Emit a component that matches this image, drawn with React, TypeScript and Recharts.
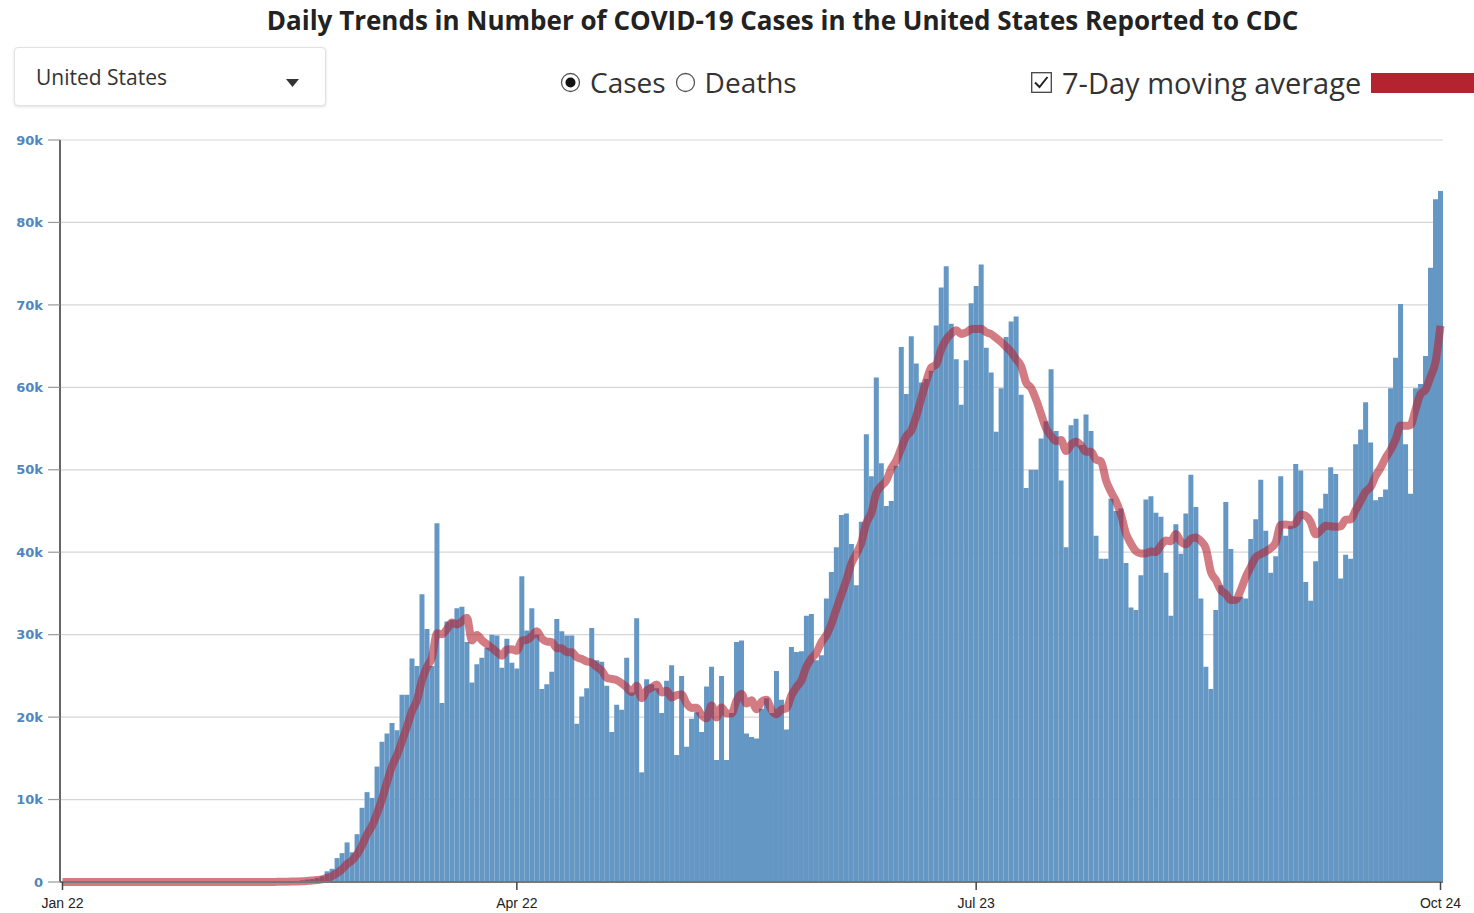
import React from 'react'
import { ComposedChart, Bar, Line, XAxis, YAxis, CartesianGrid } from 'recharts'

// daily reported cases (2020)
const jan = [0, 0, 0, 0, 0, 0, 0, 0, 0, 0] // from Jan 22
const feb = [
  0, 0, 0, 0, 0, 0, 0, 0, 0, 0, 0, 0, 0, 0, 0, 0, 0, 0, 0, 0, 0, 0, 0, 0, 0, 0, 0, 0, 0,
]
const mar = [
  10, 20, 20, 30, 50, 60, 70, 100, 120, 200, 300, 350, 500, 700, 1300, 1600, 2900, 3500, 4800,
  3600, 5800, 9000, 10900, 10200, 14000, 17000, 18000, 19300, 18400, 22700, 22700,
]
const apr = [
  27100, 26200, 34900, 30700, 26200, 43500, 21700, 31600, 31800, 33200, 33400, 29100, 24200,
  26400, 27200, 28400, 30000, 29900, 26000, 29500, 26600, 25900, 37100, 30500, 33200, 30000,
  23400, 24000, 25500, 31900,
]
const may = [
  30400, 29900, 29900, 19200, 22500, 23500, 30800, 26900, 26700, 23800, 18200, 21500, 20900,
  27200, 23000, 32000, 13300, 24600, 24000, 23500, 20500, 24400, 26300, 15400, 25000, 16400,
  19800, 20600, 18200, 23700, 26100,
]
const jun = [
  14800, 25000, 14800, 20500, 29100, 29300, 18000, 17600, 17400, 21000, 22300, 20500, 25600,
  22100, 18500, 28500, 27900, 28000, 32300, 32500, 26900, 27500, 34400, 37600, 40600, 44500,
  44700, 41000, 36000, 43700,
]
const jul = [
  54300, 49200, 61200, 50800, 45600, 46200, 50500, 64900, 59200, 66200, 62900, 60600, 61000,
  62000, 67500, 72100, 74700, 67700, 63400, 57900, 63300, 70200, 72300, 74900, 64800, 61800,
  54600, 59900, 66100, 68000, 68600,
]
const aug = [
  59100, 47800, 50000, 50000, 53800, 55900, 62200, 54700, 48700, 40600, 55400, 56200, 53000,
  56700, 54700, 42000, 39200, 39200, 46500, 45000, 45300, 38700, 33300, 33000, 37200, 46400,
  46800, 44800, 44300, 37500, 32300,
]
const sep = [
  43400, 39800, 44700, 49400, 45500, 34400, 26100, 23400, 33000, 36000, 46100, 40400, 34600,
  34600, 34400, 41600, 44000, 48800, 42600, 37500, 39500, 49200, 42000, 43200, 50700, 49900,
  36400, 34100, 38900, 45300,
]
const oct = [
  47100, 50300, 49500, 36800, 39700, 39200, 53100, 54900, 58200, 53300, 46300, 46700, 47600,
  59900, 63600, 70100, 53100, 47100, 59900, 60400, 63800, 74500, 82800, 83800,
]

const months: [string, number, number[]][] = [
  ['Jan', 22, jan],
  ['Feb', 1, feb],
  ['Mar', 1, mar],
  ['Apr', 1, apr],
  ['May', 1, may],
  ['Jun', 1, jun],
  ['Jul', 1, jul],
  ['Aug', 1, aug],
  ['Sep', 1, sep],
  ['Oct', 1, oct],
]

const xTicks = ['Jan 22', 'Apr 22', 'Jul 23', 'Oct 24']
const yTicks = [0, 10000, 20000, 30000, 40000, 50000, 60000, 70000, 80000, 90000]

const data: { date: string; cases: number; avg?: number }[] = []
months.forEach(([m, first, vals]) => {
  vals.forEach((v, i) => data.push({ date: `${m} ${first + i}`, cases: v }))
})
// 7-day trailing moving average of the daily values
data.forEach((d, i) => {
  const win = data.slice(Math.max(0, i - 6), i + 1)
  d.avg = win.reduce((s, x) => s + x.cases, 0) / win.length
})

const BLUE = '#6497c4'
const RED = '#b52330'

function Radio({ checked }: { checked: boolean }) {
  return (
    <svg width={21} height={21} style={{ display: 'block' }}>
      <circle cx={10.5} cy={10.5} r={9} fill="#fff" stroke="#555" strokeWidth={1.3} />
      {checked && <circle cx={10.5} cy={10.5} r={5} fill="#111" />}
    </svg>
  )
}

export default function App() {
  return (
    <div
      style={{
        position: 'absolute',
        left: 0,
        top: 0,
        width: 1474,
        height: 913,
        background: '#fff',
        overflow: 'hidden',
        fontFamily: '"Open Sans", sans-serif',
        color: '#222',
      }}
    >
      <div
        style={{
          position: 'absolute',
          left: 0,
          top: 2,
          width: 1565,
          textAlign: 'center',
          fontSize: 26,
          fontWeight: 700,
        }}
      >
        Daily Trends in Number of COVID-19 Cases in the United States Reported to CDC
      </div>

      {/* dropdown */}
      <div
        style={{
          position: 'absolute',
          left: 14,
          top: 47,
          width: 310,
          height: 57,
          border: '1px solid #e2e2e2',
          borderRadius: 4,
          boxShadow: '0 1px 3px rgba(0,0,0,0.12)',
          background: '#fff',
        }}
      >
        <div style={{ position: 'absolute', left: 21, top: 0, lineHeight: '58px', fontSize: 21, color: '#333' }}>
          United States
        </div>
        <svg style={{ position: 'absolute', left: 271, top: 31 }} width={13} height={8}>
          <polygon points="0,0 13,0 6.5,8" fill="#333" />
        </svg>
      </div>

      {/* cases / deaths */}
      <div style={{ position: 'absolute', left: 560, top: 63, display: 'flex', alignItems: 'center', fontSize: 28, whiteSpace: 'nowrap' }}>
        <Radio checked />
        <span style={{ marginLeft: 9, marginRight: 9, color: '#333' }}>Cases</span>
        <Radio checked={false} />
        <span style={{ marginLeft: 9, color: '#333' }}>Deaths</span>
      </div>

      {/* moving average toggle */}
      <div
        style={{
          position: 'absolute',
          left: 1031,
          top: 63,
          width: 600,
          display: 'flex',
          alignItems: 'center',
          fontSize: 29,
          whiteSpace: 'nowrap',
        }}
      >
        <svg width={21} height={21} style={{ display: 'block', flexShrink: 0 }}>
          <rect x={0.7} y={0.7} width={19.6} height={19.6} fill="#fff" stroke="#444" strokeWidth={1.3} />
          <polyline points="4,10.5 8.5,15 16.5,5" fill="none" stroke="#222" strokeWidth={2} />
        </svg>
        <span style={{ marginLeft: 10, color: '#333' }}>7-Day moving average</span>
        <div style={{ marginLeft: 10, width: 160, height: 20, background: RED, flexShrink: 0 }} />
      </div>

      <div style={{ position: 'absolute', left: 0, top: 120 }}>
        <ComposedChart
          width={1474}
          height={793}
          data={data}
          barCategoryGap={0}
          margin={{ top: 20, right: 31, left: 14, bottom: 1 }}
        >
          <CartesianGrid vertical={false} stroke="#d6d6d6" strokeWidth={1.2} />
          <XAxis
            dataKey="date"
            ticks={xTicks}
            interval={0}
            height={30}
            tickSize={8}
            tickMargin={8}
            axisLine={{ stroke: '#777', strokeWidth: 2 }}
            tickLine={{ stroke: '#444', strokeWidth: 1.5 }}
            tick={{ fontSize: 14, fill: '#222', fontFamily: '"Liberation Sans", Arial, sans-serif' }}
          />
          <YAxis
            domain={[0, 90000]}
            ticks={yTicks}
            interval={0}
            width={46}
            tickSize={12}
            tickMargin={5}
            axisLine={{ stroke: '#666', strokeWidth: 2 }}
            tickLine={{ stroke: '#999', strokeWidth: 1.2 }}
            tick={{ fontSize: 13, fill: '#4f86bf', fontFamily: '"DejaVu Sans", sans-serif', fontWeight: 700 }}
            tickFormatter={(v: number) => (v === 0 ? '0' : `${v / 1000}k`)}
          />
          <Bar dataKey="cases" fill={BLUE} isAnimationActive={false} />
          <Line
            type="monotone"
            dataKey="avg"
            stroke={RED}
            strokeOpacity={0.6}
            strokeWidth={8}
            dot={false}
            activeDot={false}
            isAnimationActive={false}
          />
        </ComposedChart>
      </div>
    </div>
  )
}
